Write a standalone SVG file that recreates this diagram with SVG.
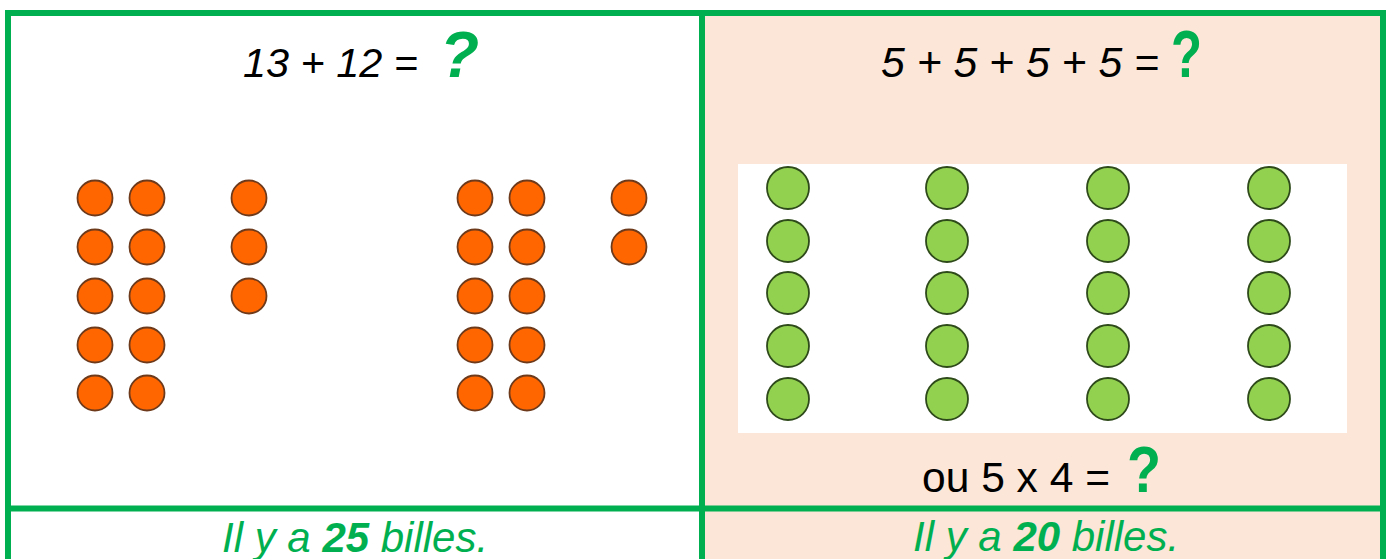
<svg xmlns="http://www.w3.org/2000/svg" width="1390" height="559" viewBox="0 0 1390 559">
<style>
.frame{fill:none;stroke:#00B050;stroke-width:6}
.o{fill:#FF6600;stroke:#6E3A1C;stroke-width:1.8}
.g{fill:#92D050;stroke:#2E4A1A;stroke-width:1.8}
.eq{font-family:"Liberation Sans",Arial,sans-serif;fill:#000}
.nar{font-family:"Liberation Sans Narrow","Liberation Sans",Arial,sans-serif;fill:#000}
.q{font-family:"Liberation Sans",Arial,sans-serif;font-weight:bold;fill:#00B050}
.ans{font-family:"Liberation Sans",Arial,sans-serif;font-style:italic;fill:#00B050;font-size:42px}
</style>
<rect x="0" y="0" width="1390" height="559" fill="#FFFFFF"/>
<rect x="702" y="13" width="681" height="560" fill="#FBE6D8"/>
<rect x="738" y="164" width="609" height="269" fill="#FFFFFF"/>
<g id="grid">
<rect class="frame" x="8" y="13" width="1375" height="560"/>
<line class="frame" x1="702" y1="13" x2="702" y2="559"/>
<line class="frame" x1="8" y1="508.5" x2="1383" y2="508.5"/>
</g>
<g id="title-left">
<text class="eq" x="243" y="77" font-size="41" font-style="italic" textLength="175" lengthAdjust="spacingAndGlyphs">13 + 12 =</text>
<text class="q" x="440" y="77" font-size="64" font-style="italic">?</text>
</g>
<g id="title-right">
<text class="nar" x="881" y="77" font-size="43" font-style="italic" textLength="278" lengthAdjust="spacingAndGlyphs">5 + 5 + 5 + 5 =</text>
<text class="q" x="1171" y="77" font-size="66" textLength="31" lengthAdjust="spacingAndGlyphs">?</text>
</g>
<g id="marbles-13">
<circle class="o" cx="95" cy="198" r="17.5"/><circle class="o" cx="147" cy="198" r="17.5"/><circle class="o" cx="249" cy="198" r="17.5"/>
<circle class="o" cx="95" cy="247" r="17.5"/><circle class="o" cx="147" cy="247" r="17.5"/><circle class="o" cx="249" cy="247" r="17.5"/>
<circle class="o" cx="95" cy="296" r="17.5"/><circle class="o" cx="147" cy="296" r="17.5"/><circle class="o" cx="249" cy="296" r="17.5"/>
<circle class="o" cx="95" cy="345" r="17.5"/><circle class="o" cx="147" cy="345" r="17.5"/>
<circle class="o" cx="95" cy="393" r="17.5"/><circle class="o" cx="147" cy="393" r="17.5"/>
</g>
<g id="marbles-12">
<circle class="o" cx="475" cy="198" r="17.5"/><circle class="o" cx="527" cy="198" r="17.5"/><circle class="o" cx="629" cy="198" r="17.5"/>
<circle class="o" cx="475" cy="247" r="17.5"/><circle class="o" cx="527" cy="247" r="17.5"/><circle class="o" cx="629" cy="247" r="17.5"/>
<circle class="o" cx="475" cy="296" r="17.5"/><circle class="o" cx="527" cy="296" r="17.5"/>
<circle class="o" cx="475" cy="345" r="17.5"/><circle class="o" cx="527" cy="345" r="17.5"/>
<circle class="o" cx="475" cy="393" r="17.5"/><circle class="o" cx="527" cy="393" r="17.5"/>
</g>
<g id="marbles-green">
<circle class="g" cx="788" cy="188" r="21"/><circle class="g" cx="788" cy="241" r="21"/><circle class="g" cx="788" cy="293" r="21"/><circle class="g" cx="788" cy="346" r="21"/><circle class="g" cx="788" cy="399" r="21"/>
<circle class="g" cx="947" cy="188" r="21"/><circle class="g" cx="947" cy="241" r="21"/><circle class="g" cx="947" cy="293" r="21"/><circle class="g" cx="947" cy="346" r="21"/><circle class="g" cx="947" cy="399" r="21"/>
<circle class="g" cx="1108" cy="188" r="21"/><circle class="g" cx="1108" cy="241" r="21"/><circle class="g" cx="1108" cy="293" r="21"/><circle class="g" cx="1108" cy="346" r="21"/><circle class="g" cx="1108" cy="399" r="21"/>
<circle class="g" cx="1269" cy="188" r="21"/><circle class="g" cx="1269" cy="241" r="21"/><circle class="g" cx="1269" cy="293" r="21"/><circle class="g" cx="1269" cy="346" r="21"/><circle class="g" cx="1269" cy="399" r="21"/>
</g>
<g id="mult">
<text class="nar" x="922" y="492" font-size="43" textLength="188" lengthAdjust="spacingAndGlyphs">ou 5 x 4 =</text>
<text class="q" x="1127" y="492" font-size="64" textLength="34" lengthAdjust="spacingAndGlyphs">?</text>
</g>
<g id="answer-left">
<text class="ans" x="222" y="552">Il y a <tspan font-weight="bold">25</tspan> billes.</text>
</g>
<g id="answer-right">
<text class="ans" x="913" y="551">Il y a <tspan font-weight="bold">20</tspan> billes.</text>
</g>
</svg>
